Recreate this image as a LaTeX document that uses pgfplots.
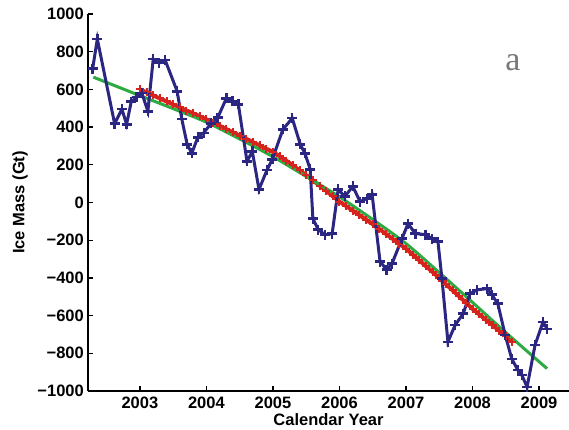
\documentclass[border=0pt]{standalone}
\usepackage{fontspec}
\setmainfont{Liberation Sans}
\newfontfamily\serifa{Liberation Serif}
\usepackage{pgfplots}
\pgfplotsset{compat=1.18}
\definecolor{bluec}{RGB}{43,38,130}
\definecolor{redc}{RGB}{215,35,30}
\definecolor{greenc}{RGB}{45,170,65}
\definecolor{grayc}{RGB}{120,120,120}
\begin{document}
\begin{tikzpicture}
\useasboundingbox (0,0) rectangle (569pt,429pt);
\begin{axis}[
  at={(88pt,38pt)}, anchor=south west,
  scale only axis, width=481pt, height=377pt,
  xmin=2002.22, xmax=2009.45, ymin=-1000, ymax=1000,
  clip=false,
  axis x line=bottom, axis y line=left,
  axis line style={-, line width=1.3pt, black},
  tick align=inside, major tick length=5pt,
  tick style={line width=1.3pt, black},
  xtick={2003,2004,2005,2006,2007,2008,2009},
  xticklabels={2003,2004,2005,2006,2007,2008,2009},
  ytick={-1000,-800,-600,-400,-200,0,200,400,600,800,1000},
  yticklabels={−1000,−800,−600,−400,−200,0,200,400,600,800,1000},
  every tick label/.append style={font=\fontsize{16.5}{18}\selectfont\bfseries},
  yticklabel style={inner sep=0pt, anchor=east, xshift=-4pt},
  xticklabel style={inner sep=0pt, anchor=north, yshift=-6pt},
  xlabel={Calendar Year}, ylabel={Ice Mass (Gt)},
  every axis x label/.style={at={([yshift=-29pt]axis description cs:0.5,0)}, anchor=center, inner sep=0pt, font=\fontsize{16.5}{18}\selectfont\bfseries},
  every axis y label/.style={at={([xshift=-68pt]axis description cs:0,0.5)}, rotate=90, anchor=center, font=\fontsize{16.5}{18}\selectfont\bfseries},
]
\addplot[redc, line width=4pt, mark=+, mark size=4pt, mark options={line width=2pt}] coordinates {
(2003.0,600)(2003.1,584)(2003.2,568)(2003.3,552)(2003.4,536)(2003.5,520)(2003.6,504)(2003.7,488)(2003.8,473)(2003.9,457)
(2004.0,441)(2004.1,424)(2004.2,407)(2004.3,389)(2004.4,372)(2004.5,355)(2004.6,338)(2004.7,320)(2004.8,303)(2004.9,285)
(2005.0,268)(2005.1,246)(2005.2,222)(2005.3,197)(2005.4,171)(2005.5,145)(2005.6,118)(2005.7,90)(2005.8,62)(2005.9,33)
(2006.0,5)(2006.1,-19)(2006.2,-43)(2006.3,-67)(2006.4,-91)(2006.5,-115)(2006.6,-141)(2006.7,-167)(2006.8,-193)(2006.9,-219)
(2007.0,-245)(2007.1,-276)(2007.2,-307)(2007.3,-338)(2007.4,-369)(2007.5,-400)(2007.6,-433)(2007.7,-466)(2007.8,-498)(2007.9,-531)
(2008.0,-564)(2008.1,-593)(2008.2,-622)(2008.3,-650)(2008.4,-680)(2008.5,-710)(2008.6,-740)
};
\addplot[greenc, line width=3pt, smooth] coordinates {
(2002.3,665)(2002.5,637)(2003.0,567)(2003.5,498)(2004.0,426)(2004.5,337)(2005.0,243)(2005.5,138)
(2006.0,30)(2006.5,-90)(2007.0,-218)(2007.5,-372)(2008.0,-530)(2008.5,-690)(2009.12,-881)
};
\addplot[bluec, line width=3pt, mark=+, mark size=5pt, mark options={line width=2.5pt}] coordinates {
(2002.29,710)(2002.36,867)(2002.62,418)(2002.73,495)(2002.80,415)(2002.87,535)(2002.95,560)(2003.03,580)
(2003.12,484)(2003.20,760)(2003.29,740)(2003.38,755)(2003.56,590)(2003.63,442)(2003.71,309)(2003.78,261)
(2003.87,345)(2003.96,370)(2004.07,420)(2004.17,450)(2004.30,553)(2004.39,537)(2004.48,521)(2004.61,218)
(2004.69,271)(2004.79,69)(2004.91,172)(2004.99,229)(2005.15,388)(2005.29,447)(2005.41,309)(2005.48,261)
(2005.56,176)(2005.60,-85)(2005.68,-144)(2005.78,-170)(2005.89,-165)(2005.98,69)(2006.08,32)(2006.20,85)
(2006.31,5)(2006.41,21)(2006.49,43)(2006.61,-314)(2006.71,-356)(2006.79,-324)(2006.94,-191)(2007.03,-112)
(2007.14,-165)(2007.29,-170)(2007.39,-191)(2007.48,-207)(2007.54,-404)(2007.63,-739)(2007.74,-649)(2007.86,-590)
(2007.96,-484)(2008.07,-463)(2008.22,-457)(2008.29,-489)(2008.38,-537)(2008.49,-702)(2008.59,-830)(2008.68,-888)
(2008.74,-915)(2008.82,-979)(2008.94,-755)(2009.06,-633)(2009.12,-670)
};
\end{axis}
\node[font=\fontsize{34}{38}\selectfont\serifa, text=grayc] at (513pt,366pt) {a};
\end{tikzpicture}
\end{document}
